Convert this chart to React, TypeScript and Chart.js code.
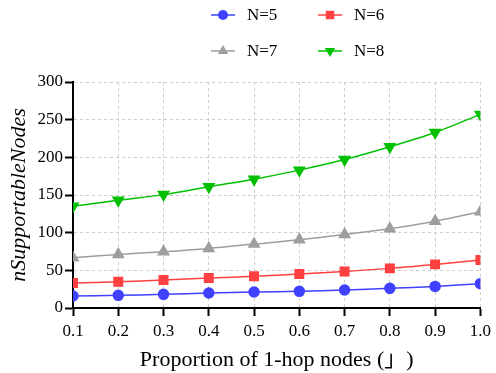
import React, { useEffect, useRef } from "react";
import { Chart, registerables } from "chart.js";

Chart.register(...registerables);

const xValues = [0.1, 0.2, 0.3, 0.4, 0.5, 0.6, 0.7, 0.8, 0.9, 1.0];
const seriesN5 = [15.9, 16.8, 18.1, 19.9, 21.2, 22.1, 23.9, 26.1, 28.7, 32.3];
const seriesN6 = [33.1, 34.9, 37.1, 39.8, 42.0, 45.1, 48.6, 52.6, 57.9, 63.6];
const seriesN7 = [66.7, 71.1, 74.7, 79.1, 84.8, 90.6, 97.7, 105.2, 115.3, 127.7];
const seriesN8 = [135, 143, 150.5, 161, 171, 183, 197, 214, 233, 257];
const seriesLabels = ["N=5", "N=6", "N=7", "N=8"];
const xTitle = "Proportion of 1-hop nodes (\u300D)";
const yTitle = "nSupportableNodes";

const colors = ["rgb(64,64,255)", "rgb(255,64,64)", "rgb(158,158,158)", "rgb(0,192,0)"];
const pointStyles = ["circle", "rect", "triangle", "triangle"];
const rotations = [0, 0, 0, 180];
const radii = [5, 6, 6, 6];

const FONT = "'Liberation Serif', 'Times New Roman', 'Noto Sans CJK SC', serif";
Chart.defaults.font.family = FONT;

function drawMarker(ctx: CanvasRenderingContext2D, style: string, r: number, rot: number, x: number, y: number) {
  ctx.beginPath();
  if (style === "circle") {
    ctx.arc(x, y, r, 0, Math.PI * 2);
  } else if (style === "rect") {
    const s = r * Math.SQRT1_2;
    ctx.rect(x - s, y - s, 2 * s, 2 * s);
  } else if (style === "triangle") {
    const rad = (rot * Math.PI) / 180;
    for (let k = 0; k < 3; k++) {
      const a = rad - Math.PI / 2 + (k * 2 * Math.PI) / 3;
      const px = x + Math.cos(a) * r;
      const py = y + Math.sin(a) * r;
      if (k === 0) ctx.moveTo(px, py);
      else ctx.lineTo(px, py);
    }
    ctx.closePath();
  }
  ctx.fill();
}

const legendPlugin = {
  id: "customLegend",
  afterDraw(chart: any) {
    const ctx = chart.ctx;
    const positions = [
      { x: 211, y: 15 },
      { x: 318, y: 15 },
      { x: 211, y: 51 },
      { x: 318, y: 51 },
    ];
    chart.data.datasets.forEach((ds: any, i: number) => {
      const p = positions[i];
      ctx.save();
      ctx.strokeStyle = ds.borderColor;
      ctx.lineWidth = 1.5;
      ctx.beginPath();
      ctx.moveTo(p.x, p.y);
      ctx.lineTo(p.x + 24, p.y);
      ctx.stroke();
      ctx.fillStyle = ds.pointBackgroundColor;
      drawMarker(ctx, ds.pointStyle, ds.pointRadius, ds.pointRotation, p.x + 12, p.y);
      ctx.fillStyle = "#000";
      ctx.font = `17px ${FONT}`;
      ctx.textBaseline = "middle";
      ctx.textAlign = "left";
      ctx.fillText(ds.label, p.x + 36, p.y + 1);
      ctx.restore();
    });
  },
};

export default function App() {
  const canvasRef = useRef<HTMLCanvasElement | null>(null);

  useEffect(() => {
    if (!canvasRef.current) return;
    const allSeries = [seriesN5, seriesN6, seriesN7, seriesN8];
    const chart = new Chart(canvasRef.current, {
      type: "line",
      data: {
        datasets: allSeries.map((s, i) => ({
          label: seriesLabels[i],
          data: s.map((v, j) => ({ x: xValues[j], y: v })),
          borderColor: colors[i],
          backgroundColor: colors[i],
          pointBackgroundColor: colors[i],
          pointBorderColor: colors[i],
          pointStyle: pointStyles[i],
          pointRotation: rotations[i],
          pointRadius: radii[i],
          borderWidth: 1.5,
          tension: 0.3,
          fill: false,
        })) as any,
      },
      options: {
        animation: false,
        responsive: false,
        maintainAspectRatio: false,
        layout: { padding: { left: 0, right: 12, top: 82, bottom: 0 } },
        plugins: {
          legend: { display: false },
          tooltip: { enabled: false },
        },
        scales: {
          x: {
            type: "linear",
            min: 0.1,
            max: 1.0,
            afterFit: (scale: any) => {
              scale.height = 65;
            },
            afterBuildTicks: (scale: any) => {
              scale.ticks = xValues.map((v) => ({ value: v }));
            },
            ticks: {
              color: "#000",
              font: { family: FONT, size: 17 },
              padding: 5,
              maxRotation: 0,
              autoSkip: false,
              callback: (v: any) => Number(v).toFixed(1),
            },
            grid: {
              color: "rgba(205,205,205,1)",
              lineWidth: 1,
              tickColor: "#000",
              tickWidth: 2,
              tickLength: 8,
              drawTicks: true,
            },
            border: { display: true, color: "#000", width: 2, dash: [3, 3] },
            title: {
              display: true,
              text: xTitle,
              color: "#000",
              font: { family: FONT, size: 22 },
              padding: { top: 0, bottom: 0 },
            },
          },
          y: {
            type: "linear",
            min: 0,
            max: 300,
            afterFit: (scale: any) => {
              scale.width = 73;
            },
            ticks: {
              stepSize: 50,
              color: "#000",
              font: { family: FONT, size: 17 },
              padding: 2,
            },
            grid: {
              color: "rgba(205,205,205,1)",
              lineWidth: 1,
              tickColor: "#000",
              tickWidth: 2,
              tickLength: 8,
              drawTicks: true,
            },
            border: { display: true, color: "#000", width: 2, dash: [3, 3] },
            title: {
              display: true,
              text: yTitle,
              color: "#000",
              font: { family: FONT, size: 22, style: "italic" },
              padding: { top: 6, bottom: 0 },
            },
          },
        },
      },
      plugins: [legendPlugin],
    } as any);
    return () => chart.destroy();
  }, []);

  return (
    <div style={{ position: "absolute", left: 0, top: 0, width: 496, height: 373 }}>
      <canvas ref={canvasRef} width={496} height={373} style={{ width: 496, height: 373 }} />
    </div>
  );
}
